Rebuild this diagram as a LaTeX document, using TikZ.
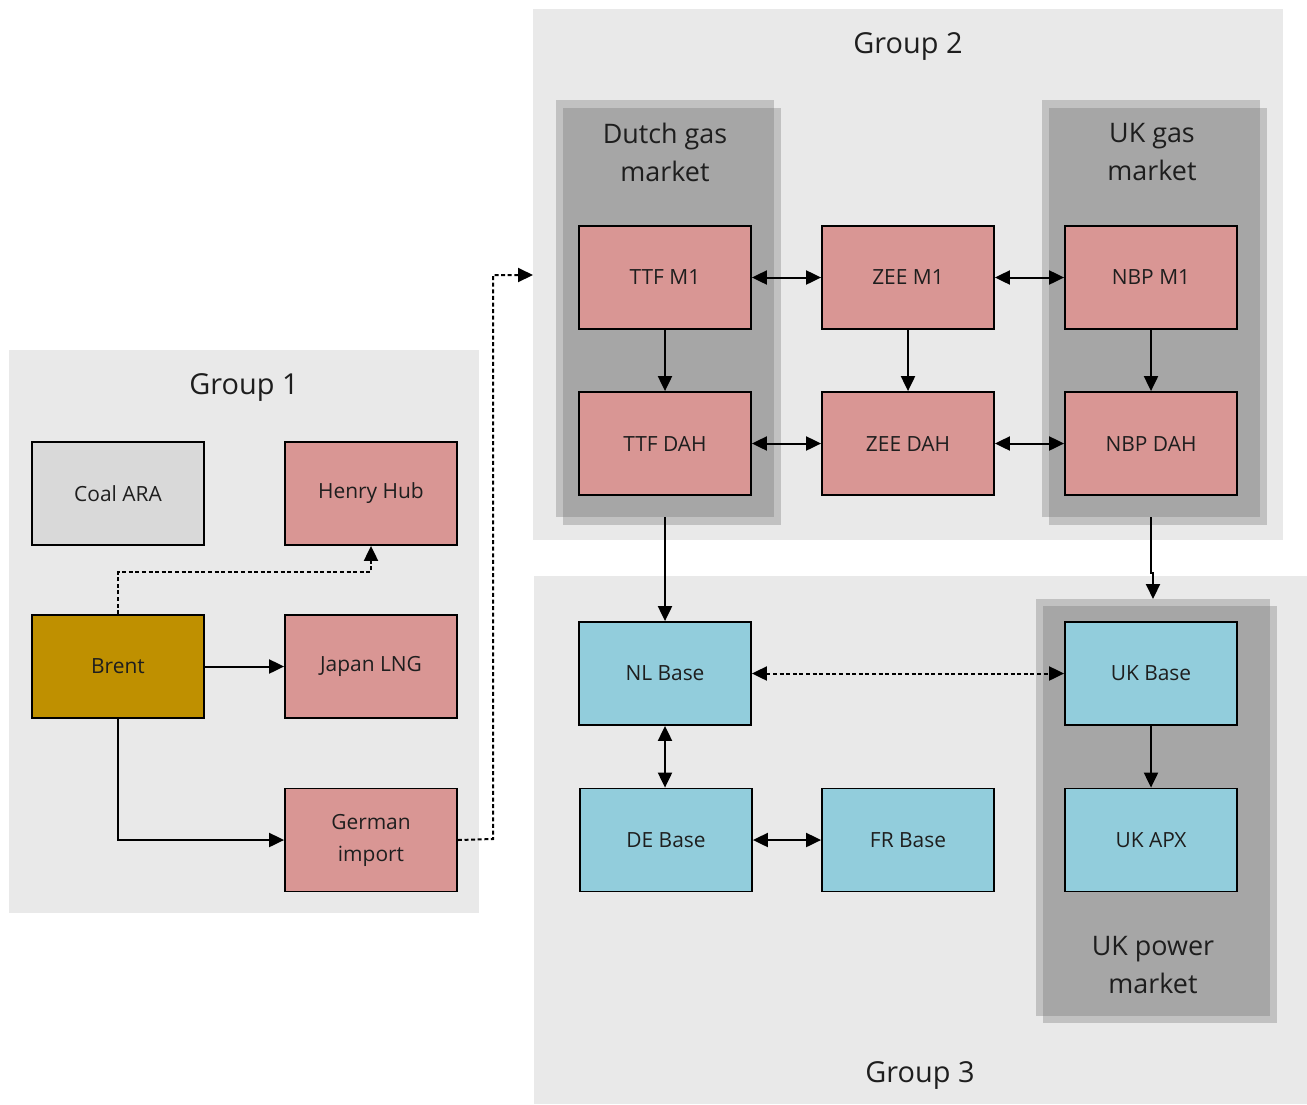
\documentclass[tikz,border=0pt]{standalone}
\usepackage{fontspec}
\setmainfont{Open Sans}
\usetikzlibrary{arrows.meta}
\definecolor{grpbg}{HTML}{E9E9E9}
\definecolor{panlight}{HTML}{C1C1C1}
\definecolor{pandark}{HTML}{A6A6A6}
\definecolor{pinkbox}{HTML}{D99694}
\definecolor{bluebox}{HTML}{92CDDC}
\definecolor{goldbox}{HTML}{BF9000}
\definecolor{greybox}{HTML}{D9D9D9}
\definecolor{txt}{HTML}{1E1E1E}
\tikzset{
  grp/.style={fill=grpbg, draw=none, inner sep=0, anchor=north west},
  panl/.style={fill=panlight, draw=none, inner sep=0, anchor=north west},
  box/.style={draw=black, line width=1.8bp, minimum width=172bp, minimum height=103bp, inner sep=0, text=txt, align=center, font=\fontsize{21}{32}\selectfont},
  grptitle/.style={text=txt, font=\fontsize{29}{38}\selectfont, inner sep=0},
  pantitle/.style={text=txt, font=\fontsize{27}{38}\selectfont, inner sep=0, align=center},
  conn/.style={line width=2bp, -{Triangle[length=15bp,width=14bp]}},
  bconn/.style={line width=2bp, {Triangle[length=15bp,width=14bp]}-{Triangle[length=15bp,width=14bp]}},
  dotc/.style={dash pattern=on 4bp off 2.6bp},
}
\begin{document}
\begin{tikzpicture}[x=1bp,y=-1bp]
\useasboundingbox (0,0) rectangle (1307,1104);
\fill[white] (0,0) rectangle (1307,1104);
% groups
\node[grp, minimum width=470bp, minimum height=563bp] (g1) at (9,350) {};
\node[grp, minimum width=750bp, minimum height=531bp] (g2) at (533,9) {};
\node[grp, minimum width=773bp, minimum height=528bp] (g3) at (534,576) {};
\node[grptitle] (g1t) at (244,387) {Group 1};
\node[grptitle] (g2t) at (908,47) {Group 2};
\node[grptitle] (g3t) at (920,1075) {Group 3};
% market panels
\node[panl, minimum width=218bp, minimum height=417bp] (dA) at (556,100) {};
\node[panl, minimum width=218bp, minimum height=417bp] (dB) at (563,108) {};
\fill[pandark] (dB.north west) rectangle (dA.south east);
\node[panl, minimum width=218bp, minimum height=417bp] (uA) at (1042,100) {};
\node[panl, minimum width=218bp, minimum height=417bp] (uB) at (1049,108) {};
\fill[pandark] (uB.north west) rectangle (uA.south east);
\node[panl, minimum width=234bp, minimum height=417bp] (pA) at (1036,599) {};
\node[panl, minimum width=234bp, minimum height=417bp] (pB) at (1043,606) {};
\fill[pandark] (pB.north west) rectangle (pA.south east);
\node[pantitle] (dT) at (665,152) {Dutch gas\\market};
\node[pantitle] (uT) at (1152,152) {UK gas\\market};
\node[pantitle] (pT) at (1153,965) {UK power\\market};
% group 1 boxes
\node[box, fill=greybox] (coal) at (118,493.5) {Coal ARA};
\node[box, fill=pinkbox] (henry) at (371,493.5) {Henry Hub};
\node[box, fill=goldbox] (brent) at (118,666.5) {Brent};
\node[box, fill=pinkbox] (japan) at (371,666.5) {Japan LNG};
\node[box, fill=pinkbox] (german) at (371,840) {German\\import};
% group 2 boxes
\node[box, fill=pinkbox] (ttfm1) at (665,277.5) {TTF M1};
\node[box, fill=pinkbox] (zeem1) at (908,277.5) {ZEE M1};
\node[box, fill=pinkbox] (nbpm1) at (1151,277.5) {NBP M1};
\node[box, fill=pinkbox] (ttfdah) at (665,443.5) {TTF DAH};
\node[box, fill=pinkbox] (zeedah) at (908,443.5) {ZEE DAH};
\node[box, fill=pinkbox] (nbpdah) at (1151,443.5) {NBP DAH};
% group 3 boxes
\node[box, fill=bluebox] (nl) at (665,673.5) {NL Base};
\node[box, fill=bluebox] (ukb) at (1151,673.5) {UK Base};
\node[box, fill=bluebox] (de) at (666,840) {DE Base};
\node[box, fill=bluebox] (fr) at (908,840) {FR Base};
\node[box, fill=bluebox] (apx) at (1151,840) {UK APX};
% connectors group 2
\draw[bconn] (ttfm1) -- (zeem1);
\draw[bconn] (zeem1) -- (nbpm1);
\draw[bconn] (ttfdah) -- (zeedah);
\draw[bconn] (zeedah) -- (nbpdah);
\draw[conn] (ttfm1) -- (ttfdah);
\draw[conn] (zeem1) -- (zeedah);
\draw[conn] (nbpm1) -- (nbpdah);
% between groups
\draw[conn] (ttfdah.south |- dA.south) -- (nl.north);
\coordinate (ukj1) at (1151,573);
\coordinate (ukj2) at (1153,573);
\draw[conn] (nbpdah.south |- uA.south) -- (ukj1) -- (ukj2) -- (ukj2 |- pA.north);
% group 3
\draw[bconn, dotc] (nl) -- (ukb);
\draw[bconn] (nl.south) -- (de.north -| nl.south);
\draw[bconn] (de) -- (fr);
\draw[conn] (ukb) -- (apx);
% group 1
\draw[conn] (brent) -- (japan);
\draw[conn] (brent.south) |- (german.west);
\coordinate (hh1) at (118,572);
\draw[conn, dotc] (brent.north) -- (hh1) -| (henry.south);
\coordinate (gi1) at (493,839);
\coordinate (gi2) at (493,275);
\draw[conn, dotc] (german.east) -- (gi1) -- (gi2) -- (gi2 -| g2.west);
\end{tikzpicture}
\end{document}
